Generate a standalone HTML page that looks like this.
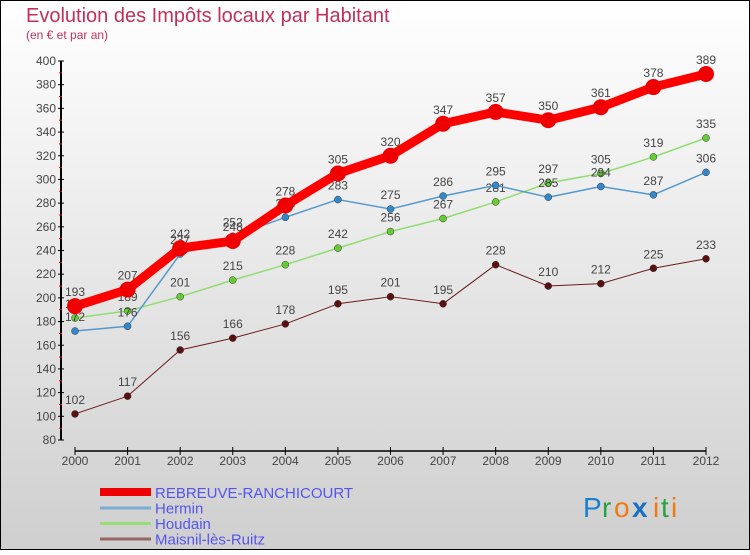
<!DOCTYPE html>
<html><head><meta charset="utf-8">
<style>
body{margin:0}
#c{width:750px;height:550px;position:relative;font-family:"Liberation Sans","DejaVu Sans",sans-serif}
svg text{font-family:"Liberation Sans","DejaVu Sans",sans-serif}
</style></head><body>
<div id="c">
<svg id="s" width="750" height="550" xmlns="http://www.w3.org/2000/svg">
<defs><linearGradient id="bg" x1="0" y1="0" x2="0" y2="1"><stop offset="0" stop-color="#ffffff"/><stop offset="1" stop-color="#cfcfcf"/></linearGradient></defs>
<rect x="0.5" y="0.5" width="749" height="549" fill="url(#bg)" stroke="#000"/>
<text x="26" y="22" font-size="20" fill="#c0305a">Evolution des Impôts locaux par Habitant</text>
<text x="26" y="39" font-size="12" fill="#c0305a">(en € et par an)</text>
<g id="axes"></g><g id="series"></g><g id="legend"></g>
<g font-size="28">
<text x="583" y="517" fill="#1a7fd0">P</text><text x="602" y="517" fill="#2aa040">r</text><text x="614" y="517" fill="#f07a10">o</text><text x="632" y="517" fill="#1a6fc0" font-weight="bold">x</text><text x="653" y="517" fill="#f07a10">i</text><text x="661" y="517" fill="#2aa040">t</text><text x="671" y="517" fill="#f07a10">i</text>
</g>
</svg></div>
<script>
const years=["2000","2001","2002","2003","2004","2005","2006","2007","2008","2009","2010","2011","2012"];
const yTicks=[80,100,120,140,160,180,200,220,240,260,280,300,320,340,360,380,400];
const rebreuve=[193,207,242,248,278,305,320,347,357,350,361,378,389];
const hermin=[172,176,237,252,268,283,275,286,295,285,294,287,306];
const houdain=[183,189,201,215,228,242,256,267,281,297,305,319,335];
const maisnil=[102,117,156,166,178,195,201,195,228,210,212,225,233];
const names=["REBREUVE-RANCHICOURT","Hermin","Houdain","Maisnil-lès-Ruitz"];
const NS="http://www.w3.org/2000/svg";
const X=i=>75+i*(706-75)/12;
const Y=v=>440-(v-80)*(440-61)/320;
function mk(tag,at,par){const e=document.createElementNS(NS,tag);for(const k in at)e.setAttribute(k,at[k]);par.appendChild(e);return e;}
const ax=document.getElementById('axes');
let yl=mk('line',{x1:61,y1:61,x2:61,y2:440,stroke:'#000','stroke-width':2},ax);


yTicks.forEach(v=>{
 mk('line',{x1:58,y1:Y(v),x2:64,y2:Y(v),stroke:'#000'},ax);
 if(v<400)mk('line',{x1:59,y1:Y(v+10),x2:62,y2:Y(v+10),stroke:'#f00'},ax);
 const t=mk('text',{x:56,y:Y(v)+4,'font-size':12,'text-anchor':'end',fill:'#444'},ax);t.textContent=v;
 
 
});
let xl=mk('line',{x1:75,y1:451,x2:706,y2:451,stroke:'#000','stroke-width':1.5},ax);


years.forEach((y,i)=>{
 mk('line',{x1:X(i),y1:447,x2:X(i),y2:455,stroke:'#000'},ax);
 const t=mk('text',{x:X(i),y:465,'font-size':12,'text-anchor':'middle',fill:'#444'},ax);t.textContent=y;
 
 
});
const ser=document.getElementById('series');
const defs=[[maisnil,'#6a1a1a','#5a1010',1,3.5,'maisnil'],[houdain,'#90dd70','#66cc33',1.5,3.5,'houdain'],[hermin,'#5599cc','#3388cc',1.5,3.5,'hermin'],[rebreuve,'#ff0000','#ee0000',9,8,'rebreuve']];
defs.forEach(([d,lc,pc,w,r,n])=>{
 const g=mk('g',{},ser);
 
 
 mk('polyline',{points:d.map((v,i)=>X(i)+','+Y(v)).join(' '),fill:'none',stroke:lc,'stroke-width':w,'stroke-linejoin':'round'},g);
 d.forEach((v,i)=>{
  const c=mk('circle',{cx:X(i),cy:Y(v),r:r,fill:pc,stroke:n==='rebreuve'?'#ee0000':'#333','stroke-width':n==='rebreuve'?0:0.5},g);
  
  
  const t=mk('text',{x:X(i),y:Y(v)-10,'font-size':12,'text-anchor':'middle',fill:'#444'},g);t.textContent=v;
  
  
 });
});
const lg=document.getElementById('legend');
const lcols=['#ee0000','#7aaed6','#99dd77','#996666'];
names.forEach((nm,i)=>{
 const y=492+i*15.5;
 const g=mk('g',{},lg);
 
 
 mk('rect',{x:100,y:i===0?y-4:y-1,width:51,height:i===0?8:3,fill:lcols[i]},g);
 const t=mk('text',{x:155,y:y+6,'font-size':15,fill:'#5555ee'},g);t.textContent=nm;
});
</script>
</body></html>
